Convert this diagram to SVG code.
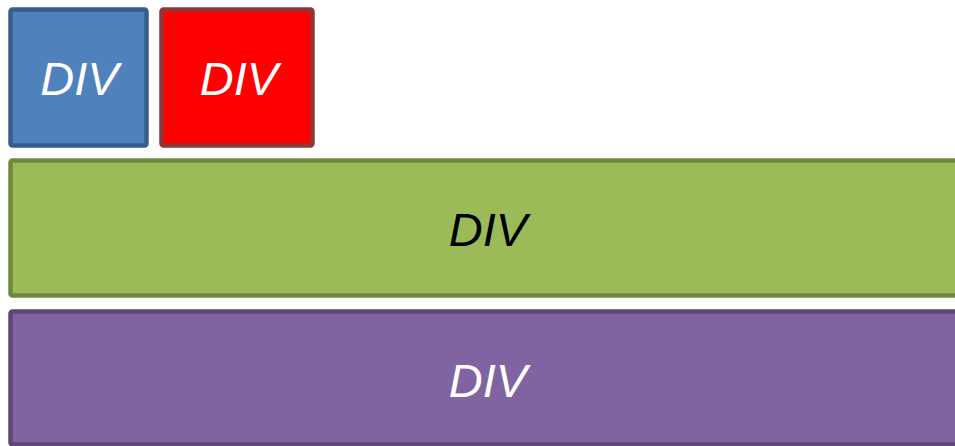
<svg xmlns="http://www.w3.org/2000/svg" width="955" height="446" viewBox="0 0 955 446">
<style>
.box{stroke-width:4.5}
.t{font-family:"Liberation Sans",Arial,sans-serif;font-style:italic;font-size:47px;text-anchor:middle}
</style>
<rect width="955" height="446" fill="#ffffff"/>
<g id="div-blue">
<rect class="box" x="10.5" y="9.5" width="136" height="136" rx="2" fill="#4F81BD" stroke="#385D8A"/>
<text class="t" x="79.5" y="95" fill="#ffffff">DIV</text>
</g>
<g id="div-red">
<rect class="box" x="161.5" y="9.5" width="151" height="136" rx="2" fill="#FF0000" stroke="#8C3836"/>
<text class="t" x="239" y="95" fill="#ffffff">DIV</text>
</g>
<g id="div-green">
<rect class="box" x="10.5" y="160.5" width="960" height="135" rx="2" fill="#9BBB59" stroke="#71893F"/>
<text class="t" x="488" y="246" fill="#000000">DIV</text>
</g>
<g id="div-purple">
<rect class="box" x="10.5" y="311.5" width="960" height="133" rx="2" fill="#8064A2" stroke="#5C4776"/>
<text class="t" x="488" y="397" fill="#ffffff">DIV</text>
</g>
<g id="connectors"></g>
</svg>
